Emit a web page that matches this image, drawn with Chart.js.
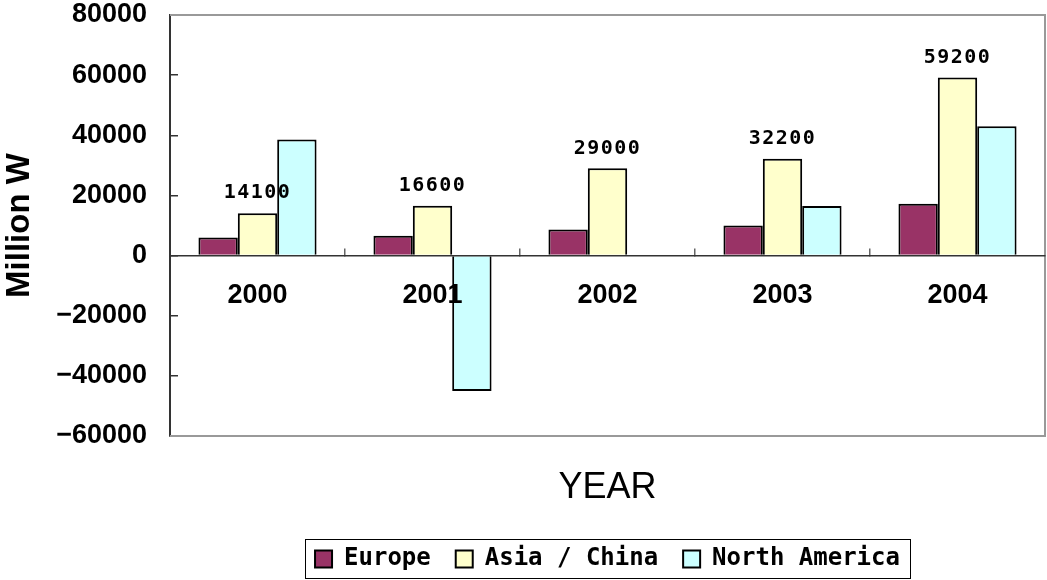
<!DOCTYPE html>
<html>
<head>
<meta charset="utf-8">
<script src="https://cdn.jsdelivr.net/npm/chart.js@4.4.1/dist/chart.umd.min.js"></script>
<style>
  html, body { margin: 0; padding: 0; background: #fff; }
  canvas { display: block; }
</style>
</head>
<body>
<canvas id="grafico" width="1047" height="580"></canvas>
<script>
const anos = ['2000', '2001', '2002', '2003', '2004'];
const europa = [6000, 6600, 8700, 10000, 17200];
const asiaChina = [14100, 16600, 29000, 32200, 59200];
const americaNorte = [38600, -45000, null, 16500, 43000];
const eixoY = { min: -60000, max: 80000, passo: 20000 };

// moldura cinza do grafico (topo, direita, base)
const moldura = {
    id: 'moldura',
    afterDatasetsDraw(chart) {
        const { ctx, chartArea: a } = chart;
        ctx.save();
        ctx.strokeStyle = '#999';
        ctx.lineWidth = 2;
        ctx.beginPath();
        ctx.moveTo(a.left, a.top);
        ctx.lineTo(a.right, a.top);
        ctx.lineTo(a.right, a.bottom);
        ctx.lineTo(a.left, a.bottom);
        ctx.stroke();
        ctx.restore();
    }
};

// rotulos so na serie Asia / China
const rotulos = {
    id: 'rotulos',
    afterDatasetsDraw(chart) {
        const { ctx } = chart;
        const meta = chart.getDatasetMeta(1);
        ctx.save();
        ctx.font = 'bold 20px "DejaVu Sans Mono"';
        ctx.letterSpacing = '1.5px';
        ctx.fillStyle = '#000';
        ctx.textAlign = 'center';
        ctx.textBaseline = 'middle';
        meta.data.forEach((barra, i) => {
            ctx.fillText(String(asiaChina[i]), barra.x, barra.y - 20);
        });
        ctx.restore();
    }
};

// caixa em volta da legenda
const caixaLegenda = {
    id: 'caixaLegenda',
    afterDraw(chart) {
        const caixas = chart.legend.legendHitBoxes;
        if (!caixas.length) return;
        const esq = caixas[0].left - 10;
        const ult = caixas[caixas.length - 1];
        const dir = ult.left + ult.width + 10;
        const { ctx } = chart;
        ctx.save();
        ctx.strokeStyle = '#000';
        ctx.lineWidth = 1;
        ctx.strokeRect(Math.round(esq) + 0.5, 539.5, Math.round(dir - esq), 39);
        ctx.restore();
    }
};

Chart.defaults.font.family = '"Liberation Sans", Arial, sans-serif';
Chart.defaults.color = '#000';

new Chart(document.getElementById('grafico'), {
    type: 'bar',
    data: {
        labels: anos,
        datasets: [
            { label: 'Europe', data: europa, backgroundColor: '#993366' },
            { label: 'Asia / China', data: asiaChina, backgroundColor: '#FFFFCC' },
            { label: 'North America', data: americaNorte, backgroundColor: '#CCFFFF' }
        ]
    },
    options: {
        responsive: false,
        animation: false,
        layout: { padding: { top: 15, right: 2, left: 0, bottom: 0 } },
        datasets: {
            bar: {
                borderColor: '#000',
                borderWidth: 2,
                borderSkipped: 'start',
                barPercentage: 1,
                categoryPercentage: 0.675
            }
        },
        scales: {
            x: {
                position: { y: 0 },
                grid: {
                    display: true,
                    drawOnChartArea: false,
                    offset: true,
                    tickLength: -8,
                    color: '#666',
                    lineWidth: 1.5
                },
                border: { color: '#333', width: 1.5, z: 1 },
                ticks: { font: { size: 27, weight: 'bold' }, padding: 32, z: 1 }
            },
            y: {
                min: eixoY.min,
                max: eixoY.max,
                afterFit(scale) {
                    scale.width = 170;
                    scale.paddingTop = 0;
                    scale.paddingBottom = 0;
                },
                grid: {
                    drawOnChartArea: false,
                    tickLength: -8,
                    color: '#333',
                    lineWidth: 1.5
                },
                border: { color: '#333', width: 2 },
                ticks: {
                    stepSize: eixoY.passo,
                    padding: 31,
                    font: { size: 27, weight: 'bold' },
                    callback: v => v < 0 ? '\u2212' + Math.abs(v) : String(v)
                },
                title: {
                    display: true,
                    text: 'Million W',
                    font: { size: 33, weight: 'bold' },
                    padding: 0
                }
            }
        },
        plugins: {
            title: {
                display: true,
                text: 'YEAR',
                position: 'bottom',
                fullSize: false,
                weight: 500,
                font: { size: 36, weight: 'normal' },
                padding: { top: 30, bottom: 12.8 }
            },
            legend: {
                position: 'bottom',
                fullSize: false,
                maxHeight: 58,
                labels: {
                    boxWidth: 17,
                    boxHeight: 17,
                    padding: 25,
                    font: { family: '"DejaVu Sans Mono"', size: 24, weight: 'bold' }
                }
            },
            tooltip: { enabled: false }
        }
    },
    plugins: [moldura, rotulos, caixaLegenda]
});
</script>
</body>
</html>
